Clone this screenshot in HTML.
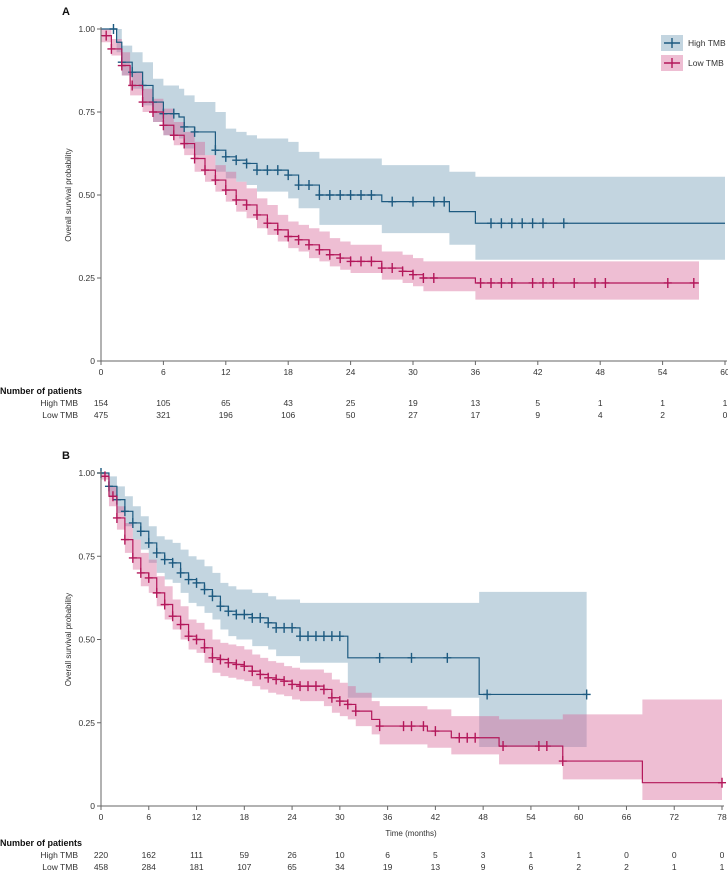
<!DOCTYPE html>
<html><head><meta charset="utf-8"><style>
html,body{margin:0;padding:0;background:#fff;}
svg{display:block;font-family:"Liberation Sans",sans-serif;}
</style></head><body>
<svg id="chart" width="728" height="874" viewBox="0 0 728 874" xmlns="http://www.w3.org/2000/svg"></svg>
<script>
// ---- Panel A data ----
const aTicks = [0,6,12,18,24,30,36,42,48,54,60];
const aHighT = [0,1.5,2,3,4,5,6,7.5,8,9,11,12,13,14,15,18,19,21,27,33.5,36];
const aHighS = [1,0.96,0.90,0.87,0.83,0.78,0.745,0.735,0.705,0.69,0.635,0.615,0.605,0.595,0.575,0.56,0.53,0.50,0.48,0.45,0.415];
const aHighLo = [1,0.93,0.86,0.82,0.77,0.72,0.68,0.67,0.64,0.62,0.57,0.55,0.54,0.53,0.51,0.49,0.46,0.41,0.385,0.35,0.305];
const aHighHi = [1,1,0.95,0.93,0.90,0.85,0.83,0.82,0.80,0.78,0.75,0.70,0.69,0.68,0.67,0.66,0.63,0.61,0.59,0.57,0.555];
const aHighCens = [1.2,2,3,4,5,6,7,8,9,11,12,13,14,15,16,17,18,19,20,21,22,23,24,25,26,28,30,32,33,37.5,38.5,39.5,40.5,41.5,42.5,44.5];
const aHighEnd = 60;
const aLowT = [0,1,2,2.8,4,5,6,7,8,9,10,11,12,13,14,15,16,17,18,19,20,21,22,23,24,27,29,30,31,36];
const aLowS = [0.98,0.94,0.89,0.83,0.78,0.75,0.71,0.68,0.655,0.61,0.575,0.545,0.515,0.485,0.47,0.44,0.415,0.395,0.375,0.365,0.35,0.335,0.32,0.31,0.30,0.28,0.27,0.26,0.25,0.235];
const aLowLo = [0.96,0.92,0.86,0.80,0.75,0.72,0.68,0.65,0.62,0.57,0.54,0.51,0.48,0.45,0.43,0.40,0.38,0.36,0.34,0.33,0.31,0.30,0.285,0.275,0.265,0.245,0.235,0.225,0.21,0.185];
const aLowHi = [1,0.97,0.93,0.87,0.82,0.79,0.76,0.72,0.69,0.66,0.62,0.59,0.57,0.54,0.52,0.49,0.47,0.44,0.42,0.41,0.40,0.39,0.37,0.36,0.35,0.33,0.32,0.31,0.30,0.30];
const aLowCens = [0.5,1,2,3,4,5,6,7,8,9,10,11,12,13,14,15,16,17,18,19,20,21,22,23,24,25,26,27,28,29,30,31,32,36.5,37.5,38.5,39.5,41.5,42.5,43.5,45.5,47.5,48.5,54.5,57];
const aLowEnd = 57.5;
const aRiskHigh = [154,105,65,43,25,19,13,5,1,1,1];
const aRiskLow = [475,321,196,106,50,27,17,9,4,2,0];

// ---- Panel B data ----
const bTicks = [0,6,12,18,24,30,36,42,48,54,60,66,72,78];
const bHighT = [0,1,2,3,4,5,6,7,8,9,10,11,12,13,14,15,16,17,19,21,22,25,31,47.5];
const bHighS = [1,0.96,0.92,0.885,0.85,0.825,0.79,0.76,0.74,0.73,0.70,0.68,0.67,0.65,0.63,0.60,0.585,0.575,0.565,0.55,0.535,0.51,0.445,0.335];
const bHighLo = [1,0.93,0.88,0.84,0.80,0.77,0.73,0.70,0.68,0.67,0.64,0.61,0.60,0.58,0.56,0.53,0.51,0.50,0.48,0.47,0.45,0.43,0.325,0.177];
const bHighHi = [1,0.99,0.96,0.93,0.90,0.87,0.84,0.81,0.80,0.79,0.77,0.75,0.74,0.72,0.70,0.67,0.66,0.65,0.64,0.63,0.62,0.61,0.61,0.643];
const bHighCens = [0,1,2,3,4,5,6,7,8,9,10,11,12,13,14,15,16,17,18,19,20,21,22,23,24,25,26,27,28,29,30,35,39,43.5,48.5,61];
const bHighEnd = 61;
const bLowT = [0,1,2,3,4,5,6,7,8,9,10,11,12,13,14,15,16,17,18,19,20,21,22,23,24,25,28,29,30,31,32,34,35,41,44,50,58,68];
const bLowS = [0.99,0.93,0.865,0.80,0.745,0.70,0.685,0.64,0.605,0.57,0.545,0.51,0.50,0.475,0.445,0.44,0.43,0.425,0.42,0.405,0.395,0.385,0.38,0.375,0.365,0.36,0.35,0.325,0.315,0.305,0.285,0.26,0.24,0.225,0.205,0.18,0.135,0.07];
const bLowLo = [0.98,0.90,0.83,0.76,0.71,0.66,0.64,0.60,0.56,0.53,0.50,0.47,0.46,0.43,0.40,0.39,0.385,0.38,0.375,0.36,0.35,0.34,0.335,0.33,0.32,0.315,0.30,0.28,0.27,0.26,0.24,0.215,0.185,0.175,0.155,0.125,0.08,0.018];
const bLowHi = [1,0.96,0.90,0.85,0.80,0.76,0.74,0.69,0.66,0.62,0.60,0.56,0.55,0.53,0.50,0.49,0.485,0.48,0.47,0.455,0.445,0.435,0.43,0.42,0.415,0.41,0.40,0.38,0.37,0.36,0.34,0.315,0.30,0.29,0.27,0.26,0.275,0.32];
const bLowCens = [0.5,1.5,2,3,4,5,6,7,8,9,10,11,12,13,14,15,16,17,18,19,20,21,22,23,24,25,26,27,28,29,30,31,32,35,38,39,40.5,42,45,46,47,50.5,55,56,58,78];
const bLowEnd = 78;
const bRiskHigh = [220,162,111,59,26,10,6,5,3,1,1,0,0,0];
const bRiskLow = [458,284,181,107,65,34,19,13,9,6,2,2,1,1];

const yTicks = [0,0.25,0.5,0.75,1];
const yTickLabels = ["0","0.25","0.50","0.75","1.00"];

const NS = "http://www.w3.org/2000/svg";
const svg = document.getElementById('chart');
const BLUE = "#1d5a80", BLUEF = "#c3d5e0", PINK = "#b3175a", PINKF = "rgba(214,100,150,0.42)";
function mk(tag, attrs, parent){ const e=document.createElementNS(NS,tag); for(const k in attrs) e.setAttribute(k,attrs[k]); (parent||svg).appendChild(e); return e; }
function txt(x,y,s,attrs){ const e=mk('text',Object.assign({x:x,y:y,'font-size':8.5,fill:'#333'},attrs||{})); e.textContent=s; return e; }

function panel(cfg){
  const xs = t => cfg.x0 + (t/cfg.xmax)*(cfg.x1-cfg.x0);
  const ys = v => cfg.y0 - v*(cfg.y0-cfg.y1);
  const g = mk('g',{});
  
  
  function stepAt(T,S,t){ let v=S[0]; for(let i=0;i<T.length;i++){ if(T[i]<=t) v=S[i]; } return v; }
  function band(T,Lo,Hi,end,fill,name){
    let pts=[];
    for(let i=0;i<T.length;i++){ const tn = i<T.length-1?T[i+1]:end; pts.push([xs(T[i]),ys(Hi[i])],[xs(tn),ys(Hi[i])]); }
    for(let i=T.length-1;i>=0;i--){ const tn = i<T.length-1?T[i+1]:end; pts.push([xs(tn),ys(Lo[i])],[xs(T[i]),ys(Lo[i])]); }
    const p = mk('polygon',{points:pts.map(p=>p.join(',')).join(' '),fill:fill},g);
    
    
  }
  function curve(T,S,end,col,cens,name){
    let d='M'+xs(T[0])+','+ys(S[0]);
    for(let i=1;i<T.length;i++){ d+=' H'+xs(T[i])+' V'+ys(S[i]); }
    d+=' H'+xs(end);
    const p = mk('path',{d:d,fill:'none',stroke:col,'stroke-width':1.2},g);
    
    
    cens.forEach(t=>{
      const cx=xs(t), cy=ys(stepAt(T,S,t));
      const c = mk('path',{d:`M${cx-4},${cy} H${cx+4} M${cx},${cy-5} V${cy+5}`,stroke:col,'stroke-width':1.4},g);
      
      
    });
  }
  band(cfg.hT,cfg.hLo,cfg.hHi,cfg.hEnd,BLUEF,'high-tmb-ci-band');
  band(cfg.lT,cfg.lLo,cfg.lHi,cfg.lEnd,PINKF,'low-tmb-ci-band');
  curve(cfg.hT,cfg.hS,cfg.hEnd,BLUE,cfg.hC,'high-tmb');
  curve(cfg.lT,cfg.lS,cfg.lEnd,PINK,cfg.lC,'low-tmb');
  // axes
  const ax = mk('path',{d:`M${cfg.x0},${cfg.y1-2} V${cfg.y0} H${cfg.x1+2}`,fill:'none',stroke:'#666','stroke-width':1},g);
  
  
  yTicks.forEach((v,i)=>{
    mk('line',{x1:cfg.x0-4,x2:cfg.x0,y1:ys(v),y2:ys(v),stroke:'#666'},g);
    const l = txt(cfg.x0-6,ys(v)+3,yTickLabels[i],{'text-anchor':'end'});
    
    
  });
  cfg.ticks.forEach((t,i)=>{
    mk('line',{x1:xs(t),x2:xs(t),y1:cfg.y0,y2:cfg.y0+4,stroke:'#666'},g);
    const l = txt(xs(t),cfg.y0+14,String(t),{'text-anchor':'middle'});
    
    
    const r1 = txt(xs(t),cfg.riskY+12,String(cfg.rH[i]),{'text-anchor':'middle'});
    
    
    const r2 = txt(xs(t),cfg.riskY+24,String(cfg.rL[i]),{'text-anchor':'middle'});
    
    
  });
  const yl = txt(0,0,'Overall survival probability',{'text-anchor':'middle',transform:`translate(71,${(cfg.y0+cfg.y1)/2}) rotate(-90)`,'font-size':8});
  
  
  const pl = txt(62,cfg.y1-14,cfg.label,{'font-weight':'bold','font-size':11,fill:'#111'});
  
  
  const rh = txt(0,cfg.riskY,'Number of patients',{'font-weight':'bold','font-size':9,fill:'#111'});
  
  
  const a = txt(78,cfg.riskY+12,'High TMB',{'text-anchor':'end'});
  
  
  const b = txt(78,cfg.riskY+24,'Low TMB',{'text-anchor':'end'});
  
  
}

panel({name:'panel-a',label:'A',x0:101,x1:725,xmax:60,y0:361,y1:29,ticks:aTicks,
  hT:aHighT,hS:aHighS,hLo:aHighLo,hHi:aHighHi,hC:aHighCens,hEnd:aHighEnd,
  lT:aLowT,lS:aLowS,lLo:aLowLo,lHi:aLowHi,lC:aLowCens,lEnd:aLowEnd,
  rH:aRiskHigh,rL:aRiskLow,riskY:394});
panel({name:'panel-b',label:'B',x0:101,x1:722,xmax:78,y0:806,y1:473,ticks:bTicks,
  hT:bHighT,hS:bHighS,hLo:bHighLo,hHi:bHighHi,hC:bHighCens,hEnd:bHighEnd,
  lT:bLowT,lS:bLowS,lLo:bLowLo,lHi:bLowHi,lC:bLowCens,lEnd:bLowEnd,
  rH:bRiskHigh,rL:bRiskLow,riskY:846});

const xt = txt(411,836,'Time (months)',{'text-anchor':'middle','font-size':8});



// legend
const lg = mk('g',{});


[[BLUEF,BLUE,'High TMB',35],[PINKF,PINK,'Low TMB',55]].forEach(([f,c,s,y])=>{
  const r = mk('rect',{x:661,y:y,width:22,height:16,fill:f},lg);
  
  
  mk('path',{d:`M664,${y+8} H680 M672,${y+3} V${y+13}`,stroke:c,'stroke-width':1.4},lg);
  const t = txt(688,y+11,s,{},lg);
  lg.appendChild(t);
  
  
});
</script>
</body></html>
